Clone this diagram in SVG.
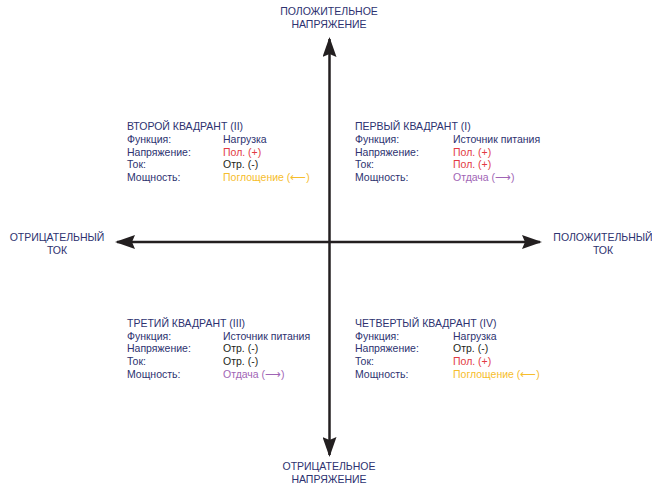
<svg xmlns="http://www.w3.org/2000/svg" width="652" height="484" viewBox="0 0 652 484">
<style>
text{font-family:"Liberation Sans",Arial,sans-serif;font-size:10.5px;fill:#2d3270}
.ax{font-size:10.5px;text-anchor:middle}
.v{fill:#231f20}
.r{fill:#e23a43}
.y{fill:#f6bd2c}
.p{fill:#9f65b5}
.axis{stroke:#231f20;stroke-width:2.5;fill:none}
</style>
<defs>
<marker id="ah" viewBox="0 0 20 14" refX="18" refY="7" markerWidth="20" markerHeight="14" markerUnits="userSpaceOnUse" orient="auto">
<path d="M0,0 L20,7 L0,14 L3,7 Z" fill="#231f20"/>
</marker>
</defs>
<rect width="652" height="484" fill="#fff"/>
<g id="connectors">
<line class="axis" x1="329.5" y1="242" x2="329.5" y2="39" marker-end="url(#ah)"/>
<line class="axis" x1="329.5" y1="242" x2="329.5" y2="455" marker-end="url(#ah)"/>
<line class="axis" x1="329.5" y1="242" x2="117" y2="242" marker-end="url(#ah)"/>
<line class="axis" x1="329.5" y1="242" x2="540" y2="242" marker-end="url(#ah)"/>
</g>
<g id="label-top">
<text class="ax" x="329" y="15">ПОЛОЖИТЕЛЬНОЕ</text>
<text class="ax" x="329" y="28">НАПРЯЖЕНИЕ</text>
</g>
<g id="label-bottom">
<text class="ax" x="329" y="470">ОТРИЦАТЕЛЬНОЕ</text>
<text class="ax" x="329" y="483">НАПРЯЖЕНИЕ</text>
</g>
<g id="label-left">
<text class="ax" x="57" y="241">ОТРИЦАТЕЛЬНЫЙ</text>
<text class="ax" x="57" y="254">ТОК</text>
</g>
<g id="label-right">
<text class="ax" x="603" y="241">ПОЛОЖИТЕЛЬНЫЙ</text>
<text class="ax" x="603" y="254">ТОК</text>
</g>
<g id="quadrant-2">
<text x="127" y="130">ВТОРОЙ КВАДРАНТ (II)</text>
<text x="127" y="143">Функция:</text><text x="223" y="143">Нагрузка</text>
<text x="127" y="156">Напряжение:</text><text class="r" x="223" y="156">Пол. (+)</text>
<text x="127" y="168">Ток:</text><text class="v" x="223" y="168">Отр. (-)</text>
<text x="127" y="181">Мощность:</text><text class="y" x="223" y="181">Поглощение (⟵)</text>
</g>
<g id="quadrant-1">
<text x="355" y="130">ПЕРВЫЙ КВАДРАНТ (I)</text>
<text x="355" y="143">Функция:</text><text x="453" y="143">Источник питания</text>
<text x="355" y="156">Напряжение:</text><text class="r" x="453" y="156">Пол. (+)</text>
<text x="355" y="168">Ток:</text><text class="r" x="453" y="168">Пол. (+)</text>
<text x="355" y="181">Мощность:</text><text class="p" x="453" y="181">Отдача (⟶)</text>
</g>
<g id="quadrant-3">
<text x="127" y="327">ТРЕТИЙ КВАДРАНТ (III)</text>
<text x="127" y="340">Функция:</text><text x="223" y="340">Источник питания</text>
<text x="127" y="352">Напряжение:</text><text class="v" x="223" y="352">Отр. (-)</text>
<text x="127" y="365">Ток:</text><text class="v" x="223" y="365">Отр. (-)</text>
<text x="127" y="378">Мощность:</text><text class="p" x="223" y="378">Отдача (⟶)</text>
</g>
<g id="quadrant-4">
<text x="355" y="327">ЧЕТВЕРТЫЙ КВАДРАНТ (IV)</text>
<text x="355" y="340">Функция:</text><text x="453" y="340">Нагрузка</text>
<text x="355" y="352">Напряжение:</text><text class="v" x="453" y="352">Отр. (-)</text>
<text x="355" y="365">Ток:</text><text class="r" x="453" y="365">Пол. (+)</text>
<text x="355" y="378">Мощность:</text><text class="y" x="453" y="378">Поглощение (⟵)</text>
</g>
</svg>
